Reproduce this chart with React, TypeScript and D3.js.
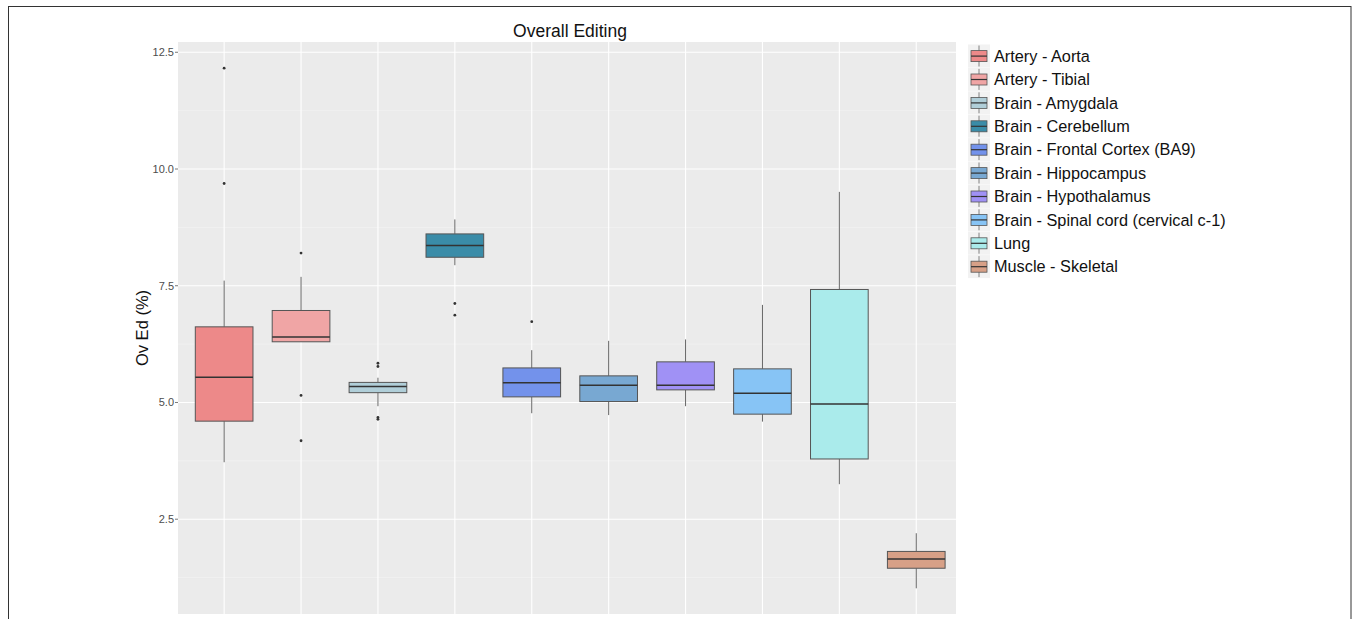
import React from "react";
import * as d3 from "d3";

const categories = [
  "Artery - Aorta",
  "Artery - Tibial",
  "Brain - Amygdala",
  "Brain - Cerebellum",
  "Brain - Frontal Cortex (BA9)",
  "Brain - Hippocampus",
  "Brain - Hypothalamus",
  "Brain - Spinal cord (cervical c-1)",
  "Lung",
  "Muscle - Skeletal",
];
const fills = [
  "#ED8989",
  "#F0A5A5",
  "#B0CED8",
  "#3A8CA8",
  "#7392EB",
  "#78A8D2",
  "#A091F5",
  "#87C4F5",
  "#AAEBEB",
  "#D7A087",
];
const whiskerLow = [3.72, 6.30, 4.92, 7.94, 4.77, 4.73, 4.92, 4.59, 3.25, 1.02];
const q1 = [4.6, 6.3, 5.21, 8.11, 5.12, 5.02, 5.27, 4.75, 3.79, 1.45];
const median = [5.54, 6.4, 5.34, 8.36, 5.42, 5.37, 5.37, 5.2, 4.97, 1.65];
const q3 = [6.62, 6.97, 5.43, 8.61, 5.74, 5.57, 5.87, 5.72, 7.42, 1.81];
const whiskerHigh = [7.61, 7.69, 5.53, 8.92, 6.12, 6.32, 6.35, 7.09, 9.51, 2.2];
const outliers: number[][] = [
  [12.16, 9.69],
  [8.2, 5.15, 4.18],
  [5.84, 5.77, 4.68, 4.64],
  [7.12, 6.87],
  [6.73],
  [],
  [],
  [],
  [],
  [],
];
const yTicks = [2.5, 5.0, 7.5, 10.0, 12.5];
const yMinor = [1.25, 3.75, 6.25, 8.75, 11.25];

const title = "Overall Editing";
const yLabel = "Ov Ed (%)";

export default function App() {
  const panel = { left: 178, right: 956, top: 42, bottom: 614 };
  const x = d3
    .scaleBand<string>()
    .domain(categories)
    .range([178, 962.4])
    .paddingOuter(0.1)
    .paddingInner(0);
  const bw = x.bandwidth();
  const cx = (c: string) => (x(c) as number) + bw / 2;
  const y = d3.scaleLinear().domain([0.47, 12.72]).range([panel.bottom, panel.top]);
  const boxW = bw * 0.75;
  const font = "'Liberation Sans', Arial, Helvetica, sans-serif";

  const legendX = 968;
  const legendY0 = 44.5;
  const legendStep = 23.4;

  return (
    <svg
      width={1358}
      height={619}
      style={{ position: "absolute", left: 0, top: 0, background: "#fff" }}
      fontFamily={font}
    >
      <rect x={8.5} y={6.5} width={1342.5} height={640} fill="#fff" stroke="#333" strokeWidth={1} />
      <text x={570} y={37} textAnchor="middle" fontSize={17.5} fill="#111">
        {title}
      </text>
      <rect
        x={panel.left}
        y={panel.top}
        width={panel.right - panel.left}
        height={panel.bottom - panel.top}
        fill="#EBEBEB"
      />
      {yMinor.map((t) => (
        <line key={"mn" + t} x1={panel.left} x2={panel.right} y1={y(t)} y2={y(t)} stroke="#F5F5F5" strokeWidth={0.6} />
      ))}
      {yTicks.map((t) => (
        <line key={"mj" + t} x1={panel.left} x2={panel.right} y1={y(t)} y2={y(t)} stroke="#fff" strokeWidth={1.1} />
      ))}
      {categories.map((c) => (
        <line key={"vx" + c} x1={cx(c)} x2={cx(c)} y1={panel.top} y2={panel.bottom} stroke="#fff" strokeWidth={1.1} />
      ))}
      {yTicks.map((t) => (
        <g key={"tk" + t}>
          <line x1={panel.left - 3} x2={panel.left} y1={y(t)} y2={y(t)} stroke="#555" strokeWidth={0.8} />
          <text x={panel.left - 4} y={y(t)} dy="0.35em" textAnchor="end" fontSize={11} fill="#4D4D4D">
            {t.toFixed(1)}
          </text>
        </g>
      ))}
      <text
        transform={`translate(148,${(panel.top + panel.bottom) / 2}) rotate(-90)`}
        textAnchor="middle"
        fontSize={16.5}
        fill="#111"
      >
        {yLabel}
      </text>
      {categories.map((c, i) => {
        const xc = cx(c);
        return (
          <g key={"bx" + c}>
            <line x1={xc} x2={xc} y1={y(q3[i])} y2={y(whiskerHigh[i])} stroke="#666" strokeWidth={1} />
            <line x1={xc} x2={xc} y1={y(q1[i])} y2={y(whiskerLow[i])} stroke="#666" strokeWidth={1} />
            <rect
              x={xc - boxW / 2}
              y={y(q3[i])}
              width={boxW}
              height={y(q1[i]) - y(q3[i])}
              fill={fills[i]}
              stroke="#555"
              strokeWidth={1}
            />
            <line
              x1={xc - boxW / 2}
              x2={xc + boxW / 2}
              y1={y(median[i])}
              y2={y(median[i])}
              stroke="#333"
              strokeWidth={1.5}
            />
            {outliers[i].map((o, j) => (
              <circle key={j} cx={xc} cy={y(o)} r={1.4} fill="#333" />
            ))}
          </g>
        );
      })}
      {categories.map((c, i) => {
        const ky = legendY0 + i * legendStep;
        const kc = ky + 11.6;
        return (
          <g key={"lg" + c}>
            <rect x={legendX} y={ky} width={22} height={23} fill="#F2F2F2" />
            <line x1={legendX + 11} x2={legendX + 11} y1={ky + 1} y2={ky + 22} stroke="#666" strokeWidth={0.8} />
            <rect x={legendX + 3} y={kc - 5.5} width={16} height={11} fill={fills[i]} stroke="#555" strokeWidth={0.8} />
            <line x1={legendX + 3} x2={legendX + 19} y1={kc} y2={kc} stroke="#333" strokeWidth={1.2} />
            <text x={994} y={kc} dy="0.35em" fontSize={16.3} fill="#111">
              {c}
            </text>
          </g>
        );
      })}
    </svg>
  );
}
